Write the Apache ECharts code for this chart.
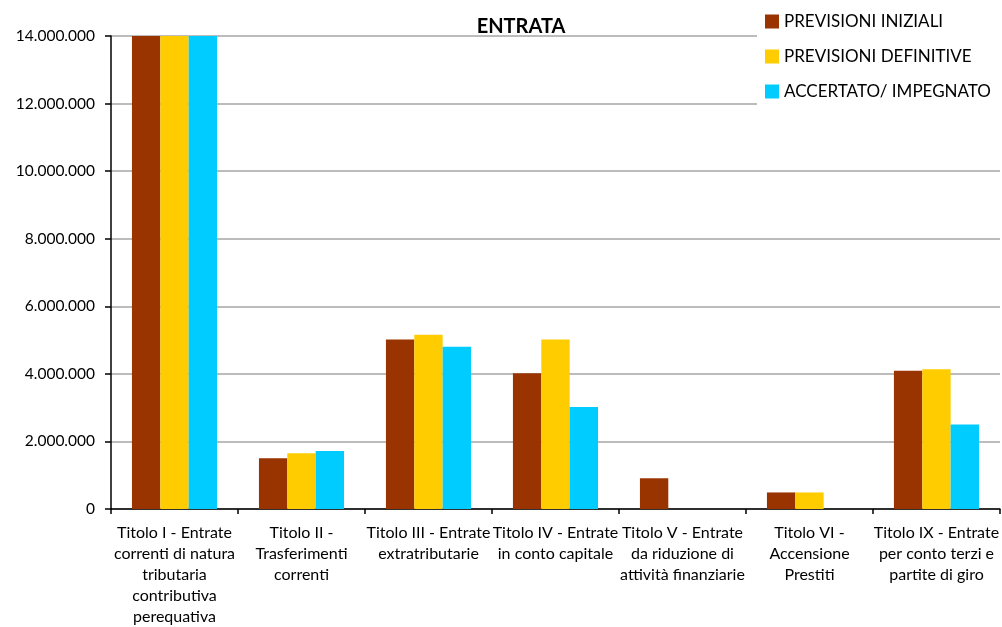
<!DOCTYPE html>
<html>
<head>
<meta charset="utf-8">
<title>ENTRATA</title>
<script src="https://cdn.jsdelivr.net/npm/echarts@6/dist/echarts.min.js"></script>
<style>
  html, body { margin: 0; padding: 0; background: #fff; }
  #chart { width: 1002px; height: 627px; }
</style>
</head>
<body>
<div id="chart"></div>
<script>
// Revenue titles (labels wrapped as on the axis)
const categories = [
  "Titolo I - Entrate\ncorrenti di natura\ntributaria\ncontributiva\nperequativa",
  "Titolo II -\nTrasferimenti\ncorrenti",
  "Titolo III - Entrate\nextratributarie",
  "Titolo IV - Entrate\nin conto capitale",
  "Titolo V - Entrate\nda riduzione di\nattività finanziarie",
  "Titolo VI -\nAccensione\nPrestiti",
  "Titolo IX - Entrate\nper conto terzi e\npartite di giro"
];

const seriesNames = ["PREVISIONI INIZIALI", "PREVISIONI DEFINITIVE", "ACCERTATO/ IMPEGNATO"];

// Values in euro; Titolo I exceeds the axis maximum and is clipped at the top
const previsioniIniziali   = [16500000, 1500000, 5020000, 4020000, 910000, 490000, 4090000];
const previsioniDefinitive = [16800000, 1650000, 5160000, 5020000, 0, 490000, 4140000];
const accertatoImpegnato   = [16200000, 1720000, 4800000, 3020000, 0, 0, 2500000];

const yTicks = { min: 0, max: 14000000, interval: 2000000 };

const colors = ["#993300", "#FFCC00", "#00CCFF"];
const FONT = "Lato";

function formatIt(v) {
  return String(Math.round(v)).replace(/\B(?=(\d{3})+(?!\d))/g, ".");
}

const chart = echarts.init(document.getElementById("chart"), null, { renderer: "canvas" });

function barSeries(name, data, color) {
  return {
    name: name,
    type: "bar",
    data: data,
    barGap: "0%",
    barCategoryGap: "33%",
    clip: true,
    itemStyle: { color: color },
    emphasis: { disabled: true }
  };
}

chart.setOption({
  animation: false,
  textStyle: { fontFamily: FONT },
  color: colors,
  title: {
    text: "ENTRATA",
    left: 516,
    top: 12,
    textAlign: "center",
    textStyle: { fontFamily: FONT, fontSize: 20, fontWeight: "bold", color: "#000" }
  },
  legend: {
    orient: "vertical",
    left: 757,
    top: 5,
    padding: [8, 30, 8, 8],
    backgroundColor: "#fff",
    icon: "rect",
    itemWidth: 14,
    itemHeight: 14,
    itemGap: 18,
    data: seriesNames,
    textStyle: { fontFamily: FONT, fontSize: 17, lineHeight: 14, color: "#000" }
  },
  grid: { left: 111, right: 1, top: 36, bottom: 118, containLabel: false },
  xAxis: {
    type: "category",
    data: categories,
    axisLine: { lineStyle: { color: "#000", width: 1.5 } },
    axisTick: { show: true, length: 5, lineStyle: { color: "#000", width: 1.5 } },
    axisLabel: {
      interval: 0,
      margin: 13,
      fontFamily: FONT,
      fontSize: 16,
      lineHeight: 21,
      color: "#000",
      align: "center"
    },
    splitLine: { show: false }
  },
  yAxis: {
    type: "value",
    min: yTicks.min,
    max: yTicks.max,
    interval: yTicks.interval,
    axisLine: { show: true, lineStyle: { color: "#000", width: 1.5 } },
    axisTick: { show: true, length: 6, lineStyle: { color: "#000", width: 1.5 } },
    axisLabel: {
      margin: 16,
      fontFamily: FONT,
      fontSize: 15.5,
      color: "#000",
      formatter: formatIt
    },
    splitLine: { show: true, lineStyle: { color: "#a6a6a6", width: 1.5 } }
  },
  series: [
    barSeries(seriesNames[0], previsioniIniziali, colors[0]),
    barSeries(seriesNames[1], previsioniDefinitive, colors[1]),
    barSeries(seriesNames[2], accertatoImpegnato, colors[2])
  ]
});
</script>
</body>
</html>
